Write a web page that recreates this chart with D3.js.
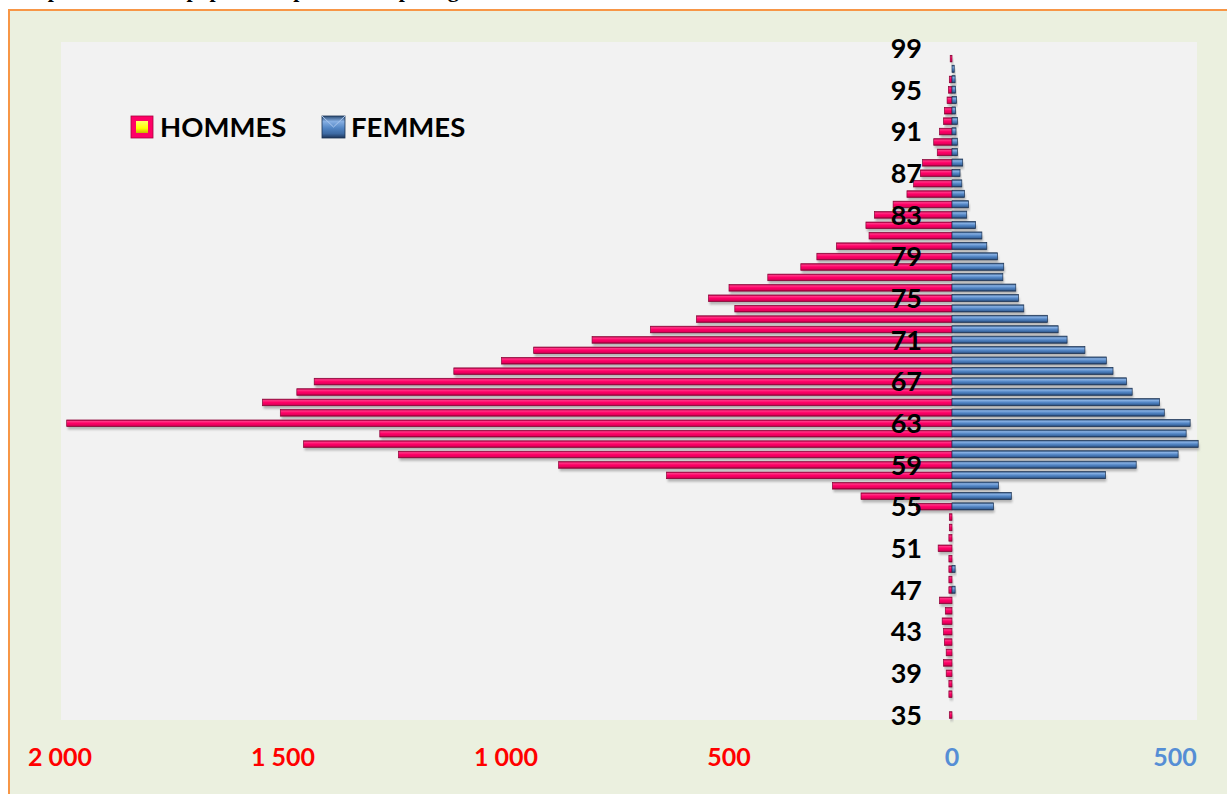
<!DOCTYPE html>
<html>
<head>
<meta charset="utf-8">
<script src="https://cdn.jsdelivr.net/npm/d3@7/dist/d3.min.js"></script>
<style>
  body { margin: 0; background: #ffffff; }
  svg { display: block; }
</style>
</head>
<body>
<div id="pyramide"></div>
<script>
// ages 35 -> 99
const ages = [35, 36, 37, 38, 39, 40, 41, 42, 43, 44, 45, 46, 47, 48, 49, 50, 51, 52, 53, 54,
              55, 56, 57, 58, 59, 60, 61, 62, 63, 64, 65, 66, 67, 68, 69, 70, 71, 72, 73, 74,
              75, 76, 77, 78, 79, 80, 81, 82, 83, 84, 85, 86, 87, 88, 89, 90, 91, 92, 93, 94,
              95, 96, 97, 98, 99];
const hommes = [6, 0, 7, 7, 13, 19, 13, 17, 19, 22, 15, 28, 7, 7, 7, 7, 31, 7, 6, 6,
                80, 204, 268, 640, 882, 1241, 1454, 1283, 1985, 1506, 1546, 1469, 1430, 1117, 1010, 938, 807, 676, 573, 487,
                546, 500, 413, 339, 303, 259, 186, 193, 174, 132, 101, 86, 71, 66, 33, 41, 28, 19, 17, 11,
                8, 6, 0, 4, 0];
const femmes = [0, 0, 0, 0, 0, 0, 0, 0, 0, 0, 0, 0, 7, 0, 7, 0, 0, 0, 0, 0,
                93, 133, 104, 344, 413, 507, 552, 525, 534, 476, 465, 404, 391, 361, 346, 298, 258, 238, 214, 161,
                149, 143, 114, 116, 102, 78, 67, 53, 33, 37, 28, 22, 18, 24, 12, 12, 9, 12, 8, 10,
                8, 7, 5, 0, 0];
const ageTicks = [35, 39, 43, 47, 51, 55, 59, 63, 67, 71, 75, 79, 83, 87, 91, 95, 99];
const xTicks = [-2000, -1500, -1000, -500, 0, 500];
const xTickLabels = ["2 000", "1 500", "1 000", "500", "0", "500"];
const series = ["HOMMES", "FEMMES"];

const width = 1227, height = 794;
const plot = {left: 61, top: 42, right: 1197, bottom: 720};

const svg = d3.select("#pyramide").append("svg")
    .attr("width", width)
    .attr("height", height);

const defs = svg.append("defs");

function gradient(id, stops) {
    const g = defs.append("linearGradient").attr("id", id)
        .attr("x1", 0).attr("y1", 0).attr("x2", 0).attr("y2", 1);
    stops.forEach(s => g.append("stop").attr("offset", s[0]).attr("stop-color", s[1]));
}
gradient("pink", [["0%", "#a8003f"], ["22%", "#ff3385"], ["50%", "#ff0066"], ["80%", "#e6005c"], ["100%", "#85002f"]]);
gradient("blue", [["0%", "#2b4c74"], ["25%", "#86afe3"], ["55%", "#5285c4"], ["80%", "#3d6aa3"], ["100%", "#1d355a"]]);
gradient("yellow", [["0%", "#ffff66"], ["60%", "#ffff00"], ["100%", "#c8b400"]]);

const shadow = defs.append("filter").attr("id", "blur")
    .attr("x", "-5%").attr("y", "-50%").attr("width", "110%").attr("height", "200%");
shadow.append("feGaussianBlur").attr("stdDeviation", 0.8);

// chart area + border
svg.append("rect")
    .attr("x", 9).attr("y", 10)
    .attr("width", width + 20).attr("height", height + 20)
    .attr("fill", "#ebf0df")
    .attr("stroke", "#f79646")
    .attr("stroke-width", 2);

// title (cut off at the top, only the descenders show)
svg.append("text")
    .attr("x", 22).attr("y", -3)
    .style("font-family", "'Liberation Serif', 'Times New Roman', serif")
    .style("font-weight", "bold")
    .style("font-size", "22px")
    .attr("fill", "#000")
    .text("Répartition de la population par sexe et par âge");

svg.append("rect")
    .attr("x", plot.left).attr("y", plot.top)
    .attr("width", plot.right - plot.left).attr("height", plot.bottom - plot.top)
    .attr("fill", "#f2f2f2");

const x = d3.scaleLinear().domain([-2000, 500]).range([60, 1175]);
const y = d3.scaleLinear().domain([35, 99]).range([715, 48.2]);

const rows = ages.map((a, i) => ({age: a, h: hommes[i], f: femmes[i]}));
const barH = 6.6;

const bars = svg.append("g");

// shadows first
bars.selectAll(".shadow-h")
    .data(rows.filter(d => d.h > 0))
    .enter().append("rect")
    .attr("class", "shadow-h")
    .attr("x", d => x(-d.h) + 1)
    .attr("y", d => y(d.age) - barH / 2 + 3)
    .attr("width", d => x(0) - x(-d.h))
    .attr("height", barH)
    .attr("fill", "#b4b4b4")
    .attr("filter", "url(#blur)");

bars.selectAll(".shadow-f")
    .data(rows.filter(d => d.f > 0))
    .enter().append("rect")
    .attr("class", "shadow-f")
    .attr("x", x(0) + 1)
    .attr("y", d => y(d.age) - barH / 2 + 3)
    .attr("width", d => x(d.f) - x(0))
    .attr("height", barH)
    .attr("fill", "#b4b4b4")
    .attr("filter", "url(#blur)");

/* HOMMES bars */
bars.selectAll(".bar.hommes")
    .data(rows.filter(d => d.h > 0))
    .enter().append("rect")
    .attr("class", "bar hommes")
    .attr("x", d => x(-d.h))
    .attr("y", d => y(d.age) - barH / 2)
    .attr("width", d => x(0) - x(-d.h))
    .attr("height", barH)
    .attr("fill", "url(#pink)")
    .attr("stroke", "#8c0036")
    .attr("stroke-width", 0.7);

/* FEMMES bars */
bars.selectAll(".bar.femmes")
    .data(rows.filter(d => d.f > 0))
    .enter().append("rect")
    .attr("class", "bar femmes")
    .attr("x", x(0))
    .attr("y", d => y(d.age) - barH / 2 - 0.5)
    .attr("width", d => x(d.f) - x(0))
    .attr("height", barH + 0.5)
    .attr("fill", "url(#blue)")
    .attr("stroke", "#1b3354")
    .attr("stroke-width", 0.7);

// age labels
svg.append("g").selectAll("text")
    .data(ageTicks)
    .enter().append("text")
    .attr("x", 922)
    .attr("y", d => y(d))
    .attr("dy", "0.36em")
    .attr("text-anchor", "end")
    .style("font-family", "Lato, 'Open Sans', sans-serif")
    .style("font-weight", "bold")
    .style("font-size", "27px")
    .attr("fill", "#000")
    .text(d => d);

// value labels
svg.append("g").selectAll("text")
    .data(xTicks)
    .enter().append("text")
    .attr("x", d => x(d))
    .attr("y", 757)
    .attr("dy", "0.36em")
    .attr("text-anchor", "middle")
    .style("font-family", "Lato, 'Open Sans', sans-serif")
    .style("font-weight", "bold")
    .style("font-size", "25px")
    .attr("fill", d => d < 0 ? "#ff0000" : "#558ed5")
    .text((d, i) => xTickLabels[i]);

// legend
const legend = svg.append("g");
const lg = [{name: series[0], x: 131}, {name: series[1], x: 322}];

legend.append("rect").attr("x", lg[0].x).attr("y", 116).attr("width", 22).attr("height", 22)
    .attr("fill", "#ff0066").attr("stroke", "#a8003f").attr("stroke-width", 0.8);
legend.append("rect").attr("x", lg[0].x + 5).attr("y", 121).attr("width", 12).attr("height", 12)
    .attr("fill", "url(#yellow)");
legend.append("rect").attr("x", lg[1].x).attr("y", 116).attr("width", 23).attr("height", 22)
    .attr("fill", "url(#blue)").attr("stroke", "#1b3354").attr("stroke-width", 0.8);
legend.append("path")
    .attr("d", `M${lg[1].x},116 L${lg[1].x + 11.5},127 L${lg[1].x + 23},116`)
    .attr("fill", "none").attr("stroke", "#a9c6ee").attr("stroke-width", 1);

legend.selectAll("text")
    .data(lg)
    .enter().append("text")
    .attr("x", d => d.x + 29)
    .attr("y", 127)
    .attr("dy", "0.36em")
    .style("font-family", "Lato, 'Open Sans', sans-serif")
    .style("font-weight", "bold")
    .style("font-size", "27.5px")
    .attr("fill", "#000")
    .text(d => d.name);
</script>
</body>
</html>
